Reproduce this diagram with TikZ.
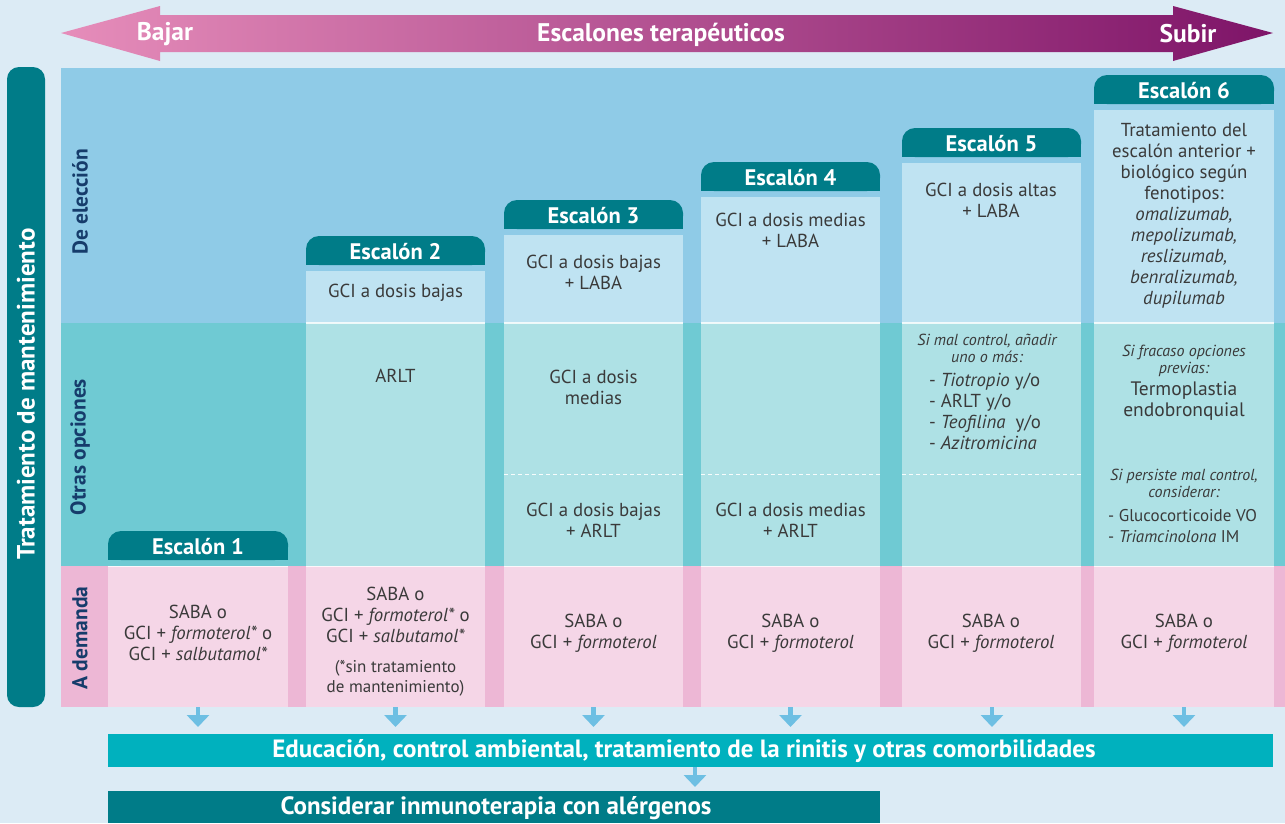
\documentclass[tikz,border=0pt]{standalone}
\usepackage{fontspec}
\setmainfont{PT Sans}
\usetikzlibrary{arrows.meta}
\definecolor{bg}{HTML}{DCEBF5}
\definecolor{bandA}{HTML}{8FCBE7}
\definecolor{boxA}{HTML}{BFE3F2}
\definecolor{bandB}{HTML}{6FCAD3}
\definecolor{boxB}{HTML}{AEE1E5}
\definecolor{bandC}{HTML}{EDB7D5}
\definecolor{boxC}{HTML}{F5D6E7}
\definecolor{tealdk}{HTML}{007C88}
\definecolor{navy}{HTML}{163C6B}
\definecolor{txt}{HTML}{3A3A3A}
\definecolor{arrblue}{HTML}{6DBFE3}
\definecolor{edubar}{HTML}{00B1BE}
\definecolor{pinkL}{HTML}{E68DBA}
\definecolor{purpR}{HTML}{7E1468}
\newcommand\hdrbox[5]{%
  \fill[tealdk, rounded corners=13pt] (#1,#3) rectangle (#2,{#3+29});
  \fill[tealdk] (#1,{#3+14}) rectangle (#2,{#3+29});
  \node[hdrtext] (#4) at ({(#1+#2)/2},{#3+15.5}) {Escalón #5};
}
\begin{document}
\begin{tikzpicture}[x=1pt,y=-1pt,
  body/.style={font=\fontsize{18.8}{21}\selectfont, text=txt, align=center, inner sep=0pt},
  smallit/.style={font=\fontsize{16}{17}\selectfont\itshape, text=txt, align=center, inner sep=0pt},
  smallup/.style={font=\fontsize{17}{20.5}\selectfont, text=txt, align=center, inner sep=0pt},
  hdrtext/.style={font=\fontsize{22.5}{24}\selectfont\bfseries, text=white, inner sep=0pt},
  toptext/.style={font=\fontsize{25.5}{26}\selectfont\bfseries, text=white, inner sep=0pt},
  rowlab/.style={font=\fontsize{21.5}{22}\selectfont\bfseries, text=navy, rotate=90, inner sep=0pt},
  barlab/.style={inner sep=0pt, text=white, font=\fontsize{25}{26}\selectfont\bfseries},
  darr/.style={-{Triangle[width=22pt,length=12pt]}, line width=4.5pt, draw=arrblue},
  sep/.style={draw=white, line width=1.5pt, opacity=0.8},
  dsep/.style={draw=white, line width=1pt, dash pattern=on 4pt off 3pt, opacity=0.9}
]
\useasboundingbox (0,0) rectangle (1285,823);
\fill[bg] (0,0) rectangle (1285,823);
% top arrow
\shade[left color=pinkL, right color=purpR] (61,33) -- (160,6) -- (160,15) -- (1173,15) -- (1173,6) -- (1273,33) -- (1173,61) -- (1173,52) -- (160,52) -- (160,61) -- cycle;
\node[toptext] (bajar) at (165,34.5) {Bajar};
\node[toptext] (escal) at (661,34.5) {Escalones terapéuticos};
\node[toptext] (subir) at (1188,34) {Subir};
% left band
\fill[tealdk, rounded corners=12pt] (7,67) rectangle (45,707);
\node[font=\fontsize{25}{26}\selectfont\bfseries, text=white, rotate=90, inner sep=0pt] (tm) at (26,394) {Tratamiento de mantenimiento};
% row bands
\fill[bandA] (61,68) rectangle (1285,323);
\fill[bandB] (61,323) rectangle (1285,566);
\fill[bandC] (61,566) rectangle (1285,707);
\node[rowlab] (rde) at (80,202) {De elección};
\node[rowlab] (roo) at (80,447) {Otras opciones};
\node[rowlab] (rad) at (80,638) {A demanda};
% column boxes
\fill[boxC] (108,566) rectangle (288,707);
\fill[boxA] (306,271) rectangle (485,323);
\fill[boxB] (306,323) rectangle (485,566);
\fill[boxC] (306,566) rectangle (485,707);
\fill[boxA] (504,235) rectangle (683,323);
\fill[boxB] (504,323) rectangle (683,566);
\fill[boxC] (504,566) rectangle (683,707);
\fill[boxA] (701,197) rectangle (880,323);
\fill[boxB] (701,323) rectangle (880,566);
\fill[boxC] (701,566) rectangle (880,707);
\fill[boxA] (902,163) rectangle (1081,323);
\fill[boxB] (902,323) rectangle (1081,566);
\fill[boxC] (902,566) rectangle (1081,707);
\fill[boxA] (1094,110) rectangle (1274,323);
\fill[boxB] (1094,323) rectangle (1274,566);
\fill[boxC] (1094,566) rectangle (1274,707);
% separators
\path[sep] (108,566.5) -- (288,566.5);
\foreach \a/\b in {306/485,504/683,701/880,902/1081,1094/1274}{
  \path[sep] (\a,323) -- (\b,323);
  \path[sep] (\a,566.5) -- (\b,566.5);
}
\foreach \a/\b in {504/683,701/880,902/1081}{
  \path[dsep] (\a,474) -- (\b,474);
}
% headers
\hdrbox{108}{288}{531}{e1}{1}
\hdrbox{306}{485}{236}{e2}{2}
\hdrbox{504}{683}{200}{e3}{3}
\hdrbox{701}{880}{162}{e4}{4}
\hdrbox{902}{1081}{128}{e5}{5}
\hdrbox{1094}{1274}{75}{e6}{6}
% col 1
\node[body] (d1) at (198,633) {SABA o\\GCI + \textit{formoterol*} o\\GCI + \textit{salbutamol*}};
% col 2
\node[body] (c2a) at (395.5,293) {GCI a dosis bajas};
\node[body] (c2b) at (395.5,376) {ARLT};
\node[body] (d2) at (395.5,615) {SABA o\\GCI + \textit{formoterol*} o\\GCI + \textit{salbutamol*}};
\node[smallup] (d2n) at (395.5,678.5) {(*sin tratamiento\\de mantenimiento)};
% col 3
\node[body] (c3a) at (593.5,272.5) {GCI a dosis bajas\\+ LABA};
\node[body] (c3b) at (593.5,387.5) {GCI a dosis\\medias};
\node[body] (c3c) at (593.5,520.5) {GCI a dosis bajas\\+ ARLT};
\node[body] (d3) at (593.5,633.5) {SABA o\\GCI + \textit{formoterol}};
% col 4
\node[body] (c4a) at (790.5,230.5) {GCI a dosis medias\\+ LABA};
\node[body] (c4c) at (790.5,520.5) {GCI a dosis medias\\+ ARLT};
\node[body] (d4) at (790.5,633.5) {SABA o\\GCI + \textit{formoterol}};
% col 5
\node[body] (c5a) at (991,200.5) {GCI a dosis altas\\+ LABA};
\node[smallit] (c5b) at (987,348.5) {Si mal control, añadir\\uno o más:};
\node[body, align=left, anchor=west] (c5c) at (929,411.5) {- \textit{Tiotropio} y/o\\- ARLT y/o\\- \textit{Teofilina}\ \ y/o\\- \textit{Azitromicina}};
\node[body] (d5) at (991,633.5) {SABA o\\GCI + \textit{formoterol}};
% col 6
\node[body] (c6a) at (1184,216) {Tratamiento del\\escalón anterior +\\biológico según\\fenotipos:\\\textit{omalizumab,}\\\textit{mepolizumab,}\\\textit{reslizumab,}\\\textit{benralizumab,}\\\textit{dupilumab}};
\node[smallit] (c6b) at (1184,360.5) {Si fracaso opciones\\previas:};
\node[body, font=\fontsize{19.5}{21}\selectfont] (c6c) at (1184,401.5) {Termoplastia\\endobronquial};
\node[smallit] (c6d) at (1184,483.5) {Si persiste mal control,\\considerar:};
\node[smallup, align=left, anchor=west] (c6e) at (1108,526) {- Glucocorticoide VO\\- \textit{Triamcinolona} IM};
\node[body] (d6) at (1184,633.5) {SABA o\\GCI + \textit{formoterol}};
% bottom bars
\fill[edubar] (108,734) rectangle (1273,767);
\node[barlab] (edu) at (684,751.5) {Educación, control ambiental, tratamiento de la rinitis y otras comorbilidades};
\fill[tealdk] (108,791) rectangle (880,823);
\node[barlab] (cons) at (496,808) {Considerar inmunoterapia con alérgenos};
% arrows
\coordinate (k1) at (198,707);
\coordinate (k2) at (395.5,707);
\coordinate (k3) at (593.5,707);
\coordinate (k4) at (790.5,707);
\coordinate (k5) at (992,707);
\coordinate (k6) at (1184,707);
\coordinate (edutop) at (0,734);
\foreach \k in {k1,k2,k3,k4,k5,k6}{
  \draw[darr, shorten >=7pt] (\k) -- (\k |- edutop);
}
\coordinate (ea) at (695,767);
\coordinate (constop) at (0,791);
\draw[darr, shorten >=4pt] (ea) -- (ea |- constop);
\end{tikzpicture}
\end{document}
